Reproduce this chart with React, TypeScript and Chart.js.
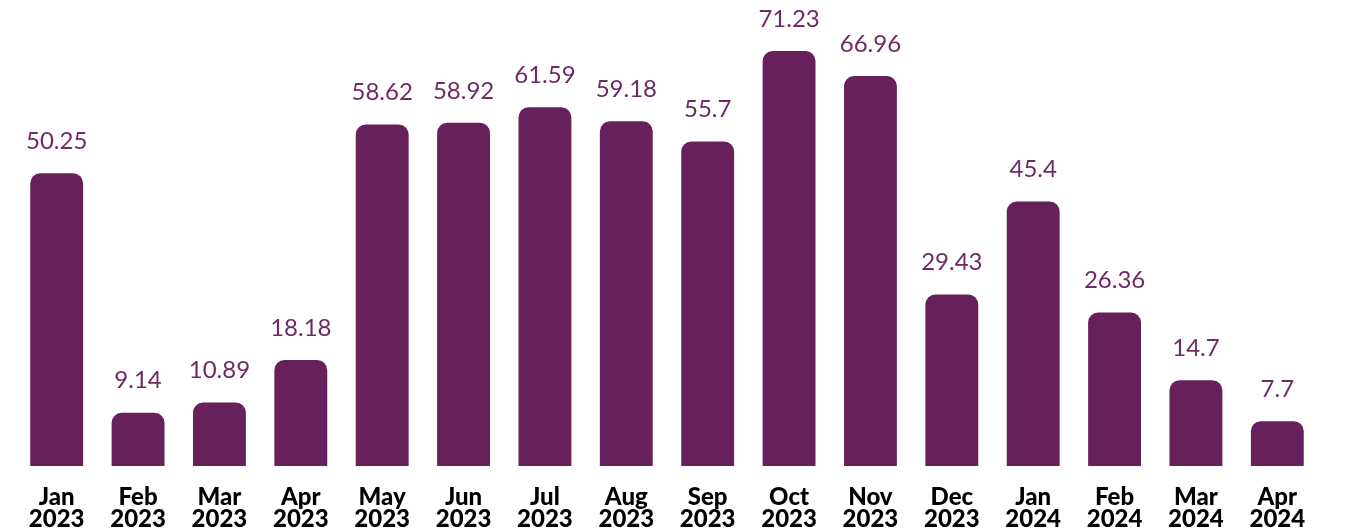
import React, { useEffect, useRef } from "react";
import { Chart, registerables } from "chart.js";

Chart.register(...registerables);

const months = ["Jan", "Feb", "Mar", "Apr", "May", "Jun", "Jul", "Aug", "Sep", "Oct", "Nov", "Dec", "Jan", "Feb", "Mar", "Apr"];
const years = ["2023", "2023", "2023", "2023", "2023", "2023", "2023", "2023", "2023", "2023", "2023", "2023", "2024", "2024", "2024", "2024"];
const values = [50.25, 9.14, 10.89, 18.18, 58.62, 58.92, 61.59, 59.18, 55.7, 71.23, 66.96, 29.43, 45.4, 26.36, 14.7, 7.7];
const valueLabels = ["50.25", "9.14", "10.89", "18.18", "58.62", "58.92", "61.59", "59.18", "55.7", "71.23", "66.96", "29.43", "45.4", "26.36", "14.7", "7.7"];

const BAR_COLOR = "#66215C";
const LABEL_COLOR = "#6E2A66";

const valueLabelPlugin = {
  id: "valueLabels",
  afterDatasetsDraw(chart: any) {
    const ctx = chart.ctx;
    const meta = chart.getDatasetMeta(0);
    ctx.save();
    ctx.font = "400 24px Lato";
    ctx.fillStyle = LABEL_COLOR;
    ctx.textAlign = "center";
    ctx.textBaseline = "middle";
    meta.data.forEach((bar: any, i: number) => {
      ctx.fillText(valueLabels[i], bar.x, bar.y - 32);
    });
    ctx.restore();
  },
};

export default function App() {
  const ref = useRef<HTMLCanvasElement | null>(null);
  useEffect(() => {
    if (!ref.current) return;
    const chart = new Chart(ref.current, {
      type: "bar",
      data: {
        labels: months.map((m, i) => [m, years[i]]),
        datasets: [
          {
            data: values,
            backgroundColor: BAR_COLOR,
            borderRadius: 10,
            borderSkipped: "bottom",
            barPercentage: 0.65,
            categoryPercentage: 1,
          },
        ],
      },
      options: {
        animation: false,
        responsive: true,
        maintainAspectRatio: false,
        layout: { padding: { left: 16, right: 27, top: 0, bottom: 0 } },
        plugins: { legend: { display: false }, tooltip: { enabled: false } },
        scales: {
          x: {
            grid: { display: false, drawTicks: false },
            border: { display: false },
            afterFit: (s: any) => {
              s.height = 66;
            },
            ticks: {
              color: "#000",
              padding: 20,
              font: { family: "Lato", size: 24, weight: "900", lineHeight: 0.92 },
              autoSkip: false,
              maxRotation: 0,
            },
          },
          y: {
            display: false,
            min: 0,
            max: 80,
          },
        },
      },
      plugins: [valueLabelPlugin],
    });
    return () => chart.destroy();
  }, []);
  return (
    <div style={{ position: "fixed", left: 0, top: 0, width: 1345, height: 532, background: "#fff" }}>
      <canvas ref={ref} />
    </div>
  );
}
